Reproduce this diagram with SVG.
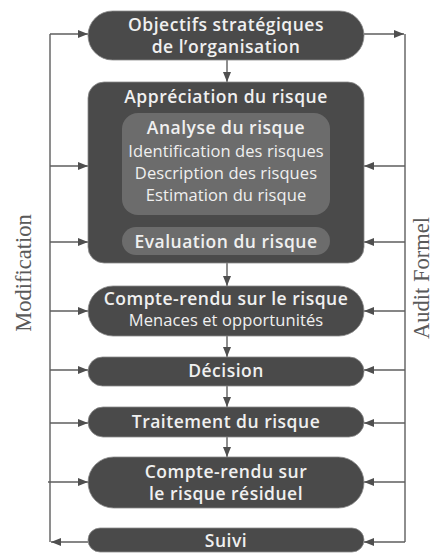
<svg xmlns="http://www.w3.org/2000/svg" width="433" height="553" viewBox="0 0 433 553">
  <style>
    .node { fill: #4a4a4a; stroke: #8c8c8c; stroke-width: 0.8; }
    .inner { fill: #6c6c6c; }
    .t { font-family: "Open Sans", Lato, "Liberation Sans", sans-serif; fill: #f0f0f0; text-anchor: middle; }
    .b { font-weight: 600; font-size: 17.5px; letter-spacing: 0.5px; }
    .r { font-size: 16.5px; letter-spacing: 0.1px; }
    .side { font-family: "Liberation Serif", "Times New Roman", serif; font-size: 22.5px; fill: #5a5a5a; text-anchor: middle; }
    .wire { fill: none; stroke: #5e5e5e; stroke-width: 1.4; }
  </style>
  <defs>
    <marker id="arrow" viewBox="0 0 10 8" refX="10" refY="4" markerWidth="10" markerHeight="8" markerUnits="userSpaceOnUse" orient="auto">
      <path d="M0,0 L10,4 L0,8 z" fill="#4f4f4f"/>
    </marker>
  </defs>
  <rect width="433" height="553" fill="#ffffff"/>

  <g id="connectors">
    <!-- feedback rails -->
    <path class="wire" d="M50,34 V542"/>
    <path class="wire" d="M405,34 V542"/>
    <!-- top node to rails -->
    <path class="wire" d="M50,34 H88" marker-end="url(#arrow)"/>
    <path class="wire" d="M364,34 H404" marker-end="url(#arrow)"/>
    <!-- left rail into nodes -->
    <path class="wire" d="M50,166 H88" marker-end="url(#arrow)"/>
    <path class="wire" d="M50,242 H88" marker-end="url(#arrow)"/>
    <path class="wire" d="M50,311 H88" marker-end="url(#arrow)"/>
    <path class="wire" d="M50,370 H88" marker-end="url(#arrow)"/>
    <path class="wire" d="M50,423 H88" marker-end="url(#arrow)"/>
    <path class="wire" d="M48,482 H88" marker-end="url(#arrow)"/>
    <path class="wire" d="M88,542 H51" marker-end="url(#arrow)"/>
    <!-- right rail into nodes -->
    <path class="wire" d="M405,166 H364" marker-end="url(#arrow)"/>
    <path class="wire" d="M405,242 H364" marker-end="url(#arrow)"/>
    <path class="wire" d="M405,311 H364" marker-end="url(#arrow)"/>
    <path class="wire" d="M405,370 H364" marker-end="url(#arrow)"/>
    <path class="wire" d="M405,423 H364" marker-end="url(#arrow)"/>
    <path class="wire" d="M405,482 H364" marker-end="url(#arrow)"/>
    <path class="wire" d="M405,542 H364" marker-end="url(#arrow)"/>
    <!-- main flow -->
    <path class="wire" d="M227,60 V82" marker-end="url(#arrow)"/>
    <path class="wire" d="M227,263 V286" marker-end="url(#arrow)"/>
    <path class="wire" d="M227,336 V357" marker-end="url(#arrow)"/>
    <path class="wire" d="M227,386 V407" marker-end="url(#arrow)"/>
    <path class="wire" d="M227,437 V457" marker-end="url(#arrow)"/>
  </g>

  <g id="objectifs">
    <rect class="node" x="88" y="11" width="276" height="49" rx="24.5"/>
    <text class="t b" x="226" y="31">Objectifs stratégiques</text>
    <text class="t b" x="226" y="53">de l’organisation</text>
  </g>

  <g id="appreciation">
    <rect class="node" x="88" y="82" width="276" height="181" rx="16"/>
    <text class="t b" x="226" y="103">Appréciation du risque</text>
    <g id="analyse">
      <rect class="inner" x="122" y="113" width="208" height="102" rx="16"/>
      <text class="t b" x="226" y="134">Analyse du risque</text>
      <text class="t r" x="226" y="157">Identification des risques</text>
      <text class="t r" x="226" y="179">Description des risques</text>
      <text class="t r" x="226" y="201">Estimation du risque</text>
    </g>
    <g id="evaluation">
      <rect class="inner" x="122" y="227" width="208" height="28" rx="14"/>
      <text class="t b" x="226" y="248">Evaluation du risque</text>
    </g>
  </g>

  <g id="compte-rendu">
    <rect class="node" x="88" y="286" width="276" height="50" rx="25"/>
    <text class="t b" x="226" y="305">Compte-rendu sur le risque</text>
    <text class="t r" x="226" y="326">Menaces et opportunités</text>
  </g>

  <g id="decision">
    <rect class="node" x="88" y="357" width="276" height="29" rx="14.5"/>
    <text class="t b" x="226" y="377">Décision</text>
  </g>

  <g id="traitement">
    <rect class="node" x="88" y="407" width="276" height="30" rx="15"/>
    <text class="t b" x="226" y="428">Traitement du risque</text>
  </g>

  <g id="residuel">
    <rect class="node" x="88" y="457" width="276" height="51" rx="25.5"/>
    <text class="t b" x="226" y="478">Compte-rendu sur</text>
    <text class="t b" x="226" y="500">le risque résiduel</text>
  </g>

  <g id="suivi">
    <rect class="node" x="88" y="528" width="276" height="24" rx="12"/>
    <text class="t b" x="226" y="547">Suivi</text>
  </g>

  <g id="labels">
    <text class="side" transform="translate(31,273) rotate(-90)">Modification</text>
    <text class="side" transform="translate(429,278) rotate(-90)">Audit Formel</text>
  </g>
</svg>
